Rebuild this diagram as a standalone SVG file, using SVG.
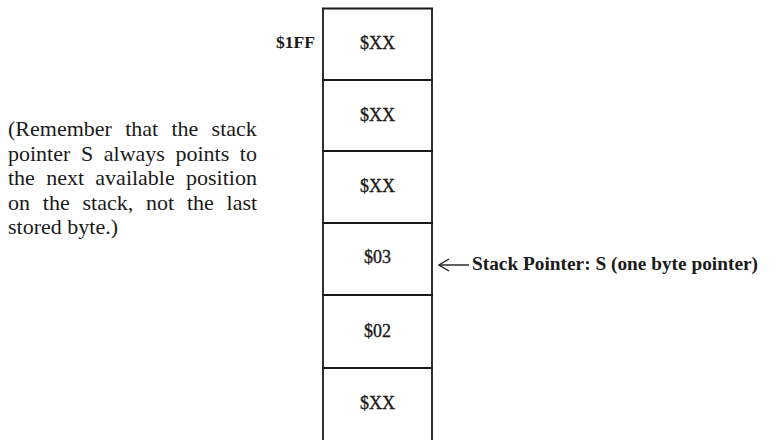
<svg xmlns="http://www.w3.org/2000/svg" width="779" height="440" viewBox="0 0 779 440">
<style>
.col{stroke:#1a1a1a;stroke-width:1.8;fill:none}
.cell{font-family:"Liberation Serif",serif;font-size:18px;fill:#1a1a1a;stroke:#1a1a1a;stroke-width:0.35;text-anchor:middle}
.lbl{font-family:"Liberation Serif",serif;font-weight:bold;fill:#1a1a1a}
.para{font-family:"Liberation Serif",serif;font-size:22px;fill:#1a1a1a}
.arr{stroke:#1a1a1a;stroke-width:1.4;fill:none}
</style>
<rect width="779" height="440" fill="#ffffff"/>
<g id="paragraph" class="para">
<text x="8" y="136" word-spacing="7.8">(Remember that the stack</text>
<text x="8" y="160.5" word-spacing="5.1">pointer S always points to</text>
<text x="8" y="185" word-spacing="5.8">the next available position</text>
<text x="8" y="209.5" word-spacing="7.3">on the stack, not the last</text>
<text x="8" y="234">stored byte.)</text>
</g>
<g id="stack-frame">
<line class="col" x1="323" y1="8" x2="323" y2="440"/>
<line class="col" x1="432" y1="8" x2="432" y2="440"/>
</g>
<g id="cell-1FF">
<line class="col" x1="322" y1="8.5" x2="433" y2="8.5"/>
<text class="cell" x="377.5" y="49">$XX</text>
</g>
<g id="cell-2">
<line class="col" x1="322" y1="80" x2="433" y2="80"/>
<text class="cell" x="377.5" y="121">$XX</text>
</g>
<g id="cell-3">
<line class="col" x1="322" y1="151" x2="433" y2="151"/>
<text class="cell" x="377.5" y="192">$XX</text>
</g>
<g id="cell-4">
<line class="col" x1="322" y1="223" x2="433" y2="223"/>
<text class="cell" x="377.5" y="263">$03</text>
</g>
<g id="cell-5">
<line class="col" x1="322" y1="295" x2="433" y2="295"/>
<text class="cell" x="377.5" y="337">$02</text>
</g>
<g id="cell-6">
<line class="col" x1="322" y1="368" x2="433" y2="368"/>
<text class="cell" x="377.5" y="409">$XX</text>
</g>
<g id="label-1FF">
<text class="lbl" x="315" y="48" font-size="17.5" text-anchor="end">$1FF</text>
</g>
<g id="connectors">
<line class="arr" x1="439" y1="265" x2="469" y2="265"/>
<path class="arr" d="M449,259 L439,265 L449,271"/>
</g>
<g id="label-sp">
<text class="lbl" x="472" y="270" font-size="19" textLength="286" lengthAdjust="spacingAndGlyphs">Stack Pointer: S (one byte pointer)</text>
</g>
</svg>
